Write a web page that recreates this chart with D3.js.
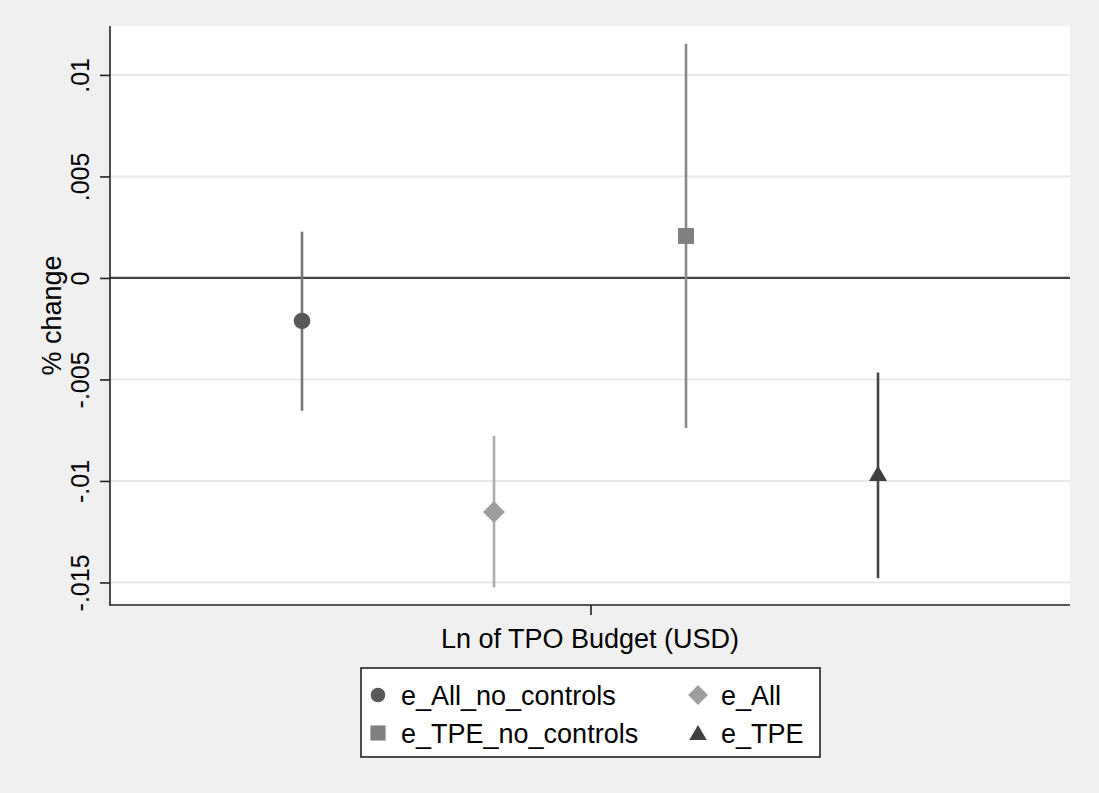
<!DOCTYPE html>
<html>
<head>
<meta charset="utf-8">
<script src="https://cdn.jsdelivr.net/npm/d3@7"></script>
<style>
  html, body { margin: 0; padding: 0; background: #f0f0f0; }
  svg { display: block; font-family: "Liberation Sans", Arial, sans-serif; }
</style>
</head>
<body>
<div id="chart"></div>
<script>
// coefficients with 95% intervals
const series = ['e_All_no_controls', 'e_All', 'e_TPE_no_controls', 'e_TPE'];
const coef = [-0.00212, -0.01153, 0.00207, -0.00975];
const ciLow = [-0.00654, -0.01524, -0.00739, -0.01479];
const ciHigh = [0.00228, -0.00778, 0.01153, -0.00466];
const yTicks = [-0.015, -0.01, -0.005, 0, 0.005, 0.01];
const yTickLabels = ['-.015', '-.01', '-.005', '0', '.005', '.01'];
const legendOrder = ['e_All_no_controls', 'e_All', 'e_TPE_no_controls', 'e_TPE'];

const width = 1099, height = 793;
const margin = { top: 26, right: 29, bottom: 188, left: 110 };

const markerFill = ['#595959', '#9e9e9e', '#808080', '#404040'];
const lineColor = ['#777777', '#ababab', '#8a8a8a', '#454545'];
const shapes = [
  { type: d3.symbolCircle, size: Math.PI * 8.3 * 8.3, rotate: 0 },
  { type: d3.symbolSquare, size: 15.5 * 15.5, rotate: 45 },
  { type: d3.symbolSquare, size: 16 * 16, rotate: 0 },
  { type: d3.symbolTriangle, size: 140, rotate: 0 }
];

const svg = d3.select('#chart').append('svg')
  .attr('width', width)
  .attr('height', height);

svg.append('rect')
  .attr('width', width).attr('height', height)
  .attr('fill', '#f0f0f0');

const x = d3.scalePoint()
  .domain(series)
  .range([margin.left, width - margin.right])
  .padding(1);

const y = d3.scaleLinear()
  .domain([-0.01611, 0.01241])
  .range([height - margin.bottom, margin.top]);

// plot region
svg.append('rect')
  .attr('x', margin.left).attr('y', margin.top)
  .attr('width', width - margin.left - margin.right)
  .attr('height', height - margin.top - margin.bottom)
  .attr('fill', '#ffffff');

// gridlines
svg.append('g')
  .selectAll('line')
  .data(yTicks.filter(d => d !== 0))
  .join('line')
  .attr('x1', margin.left).attr('x2', width - margin.right)
  .attr('y1', d => y(d)).attr('y2', d => y(d))
  .attr('stroke', '#e8e8e8')
  .attr('stroke-width', 2);

// zero line
svg.append('line')
  .attr('x1', margin.left).attr('x2', width - margin.right)
  .attr('y1', y(0)).attr('y2', y(0))
  .attr('stroke', '#424242')
  .attr('stroke-width', 2.2);

// y axis
const yAxis = d3.axisLeft(y)
  .tickValues(yTicks)
  .tickSize(10)
  .tickPadding(0)
  .tickFormat((d, i) => yTickLabels[i]);

const gy = svg.append('g')
  .attr('transform', `translate(${margin.left},0)`)
  .call(yAxis);
gy.select('.domain')
  .attr('d', `M0,${margin.top}V${height - margin.bottom}`)
  .attr('stroke', '#222').attr('stroke-width', 1.6);
gy.selectAll('.tick line').attr('stroke', '#222').attr('stroke-width', 1.6);
gy.selectAll('.tick text')
  .attr('x', null).attr('dy', null)
  .attr('transform', 'translate(-21,0) rotate(-90)')
  .attr('text-anchor', 'middle')
  .attr('fill', '#000')
  .style('font-size', '25px')
  .style('font-family', '"Liberation Sans", Arial, sans-serif');

// x axis
const plotMid = (margin.left + width - margin.right) / 2;
const plotMidY = (margin.top + height - margin.bottom) / 2;
const gx = svg.append('g')
  .attr('transform', `translate(0,${height - margin.bottom})`);
gx.append('line')
  .attr('x1', margin.left - 0.8).attr('x2', width - margin.right)
  .attr('stroke', '#222').attr('stroke-width', 1.6);
gx.append('line')
  .attr('x1', plotMid + 1).attr('x2', plotMid + 1)
  .attr('y1', 0).attr('y2', 10)
  .attr('stroke', '#222').attr('stroke-width', 1.6);

// axis titles
svg.append('text')
  .attr('x', plotMid).attr('y', 648)
  .attr('text-anchor', 'middle')
  .style('font-size', '27px')
  .text('Ln of TPO Budget (USD)');

svg.append('text')
  .attr('transform', `translate(61,${plotMidY}) rotate(-90)`)
  .attr('text-anchor', 'middle')
  .style('font-size', '27px')
  .text('% change');

// confidence intervals
svg.append('g')
  .selectAll('line')
  .data(series)
  .join('line')
  .attr('x1', d => x(d)).attr('x2', d => x(d))
  .attr('y1', (d, i) => y(ciLow[i]))
  .attr('y2', (d, i) => y(ciHigh[i]))
  .attr('stroke', (d, i) => lineColor[i])
  .attr('stroke-width', 2.6);

// point estimates
svg.append('g')
  .selectAll('path')
  .data(series)
  .join('path')
  .attr('transform', (d, i) => `translate(${x(d)},${y(coef[i])}) rotate(${shapes[i].rotate})`)
  .attr('d', (d, i) => d3.symbol().type(shapes[i].type).size(shapes[i].size)())
  .attr('fill', (d, i) => markerFill[i]);

// legend
const legend = svg.append('g');
legend.append('rect')
  .attr('x', 361).attr('y', 668)
  .attr('width', 459).attr('height', 89)
  .attr('fill', '#ffffff')
  .attr('stroke', '#222')
  .attr('stroke-width', 1.6);

const legendScale = [0.78, 0.82, 0.9, 0.95];
const items = legend.selectAll('g.item')
  .data(legendOrder)
  .join('g')
  .attr('class', 'item')
  .attr('transform', (d, k) => `translate(${k % 2 ? 698 : 378},${k < 2 ? 695 : 733})`);

items.append('path')
  .attr('transform', d => {
    const i = series.indexOf(d);
    return `translate(0,${i === 3 ? 2 : 0}) rotate(${shapes[i].rotate})`;
  })
  .attr('d', d => {
    const i = series.indexOf(d);
    return d3.symbol().type(shapes[i].type).size(shapes[i].size * legendScale[i])();
  })
  .attr('fill', d => markerFill[series.indexOf(d)]);

items.append('text')
  .attr('x', 23).attr('y', 10)
  .style('font-size', '27px')
  .text(d => d);
</script>
</body>
</html>
